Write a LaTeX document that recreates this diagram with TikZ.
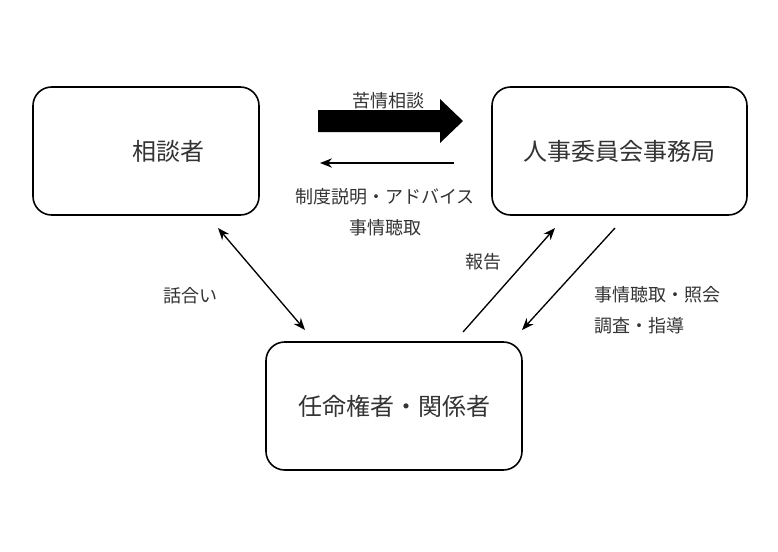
\documentclass[tikz,border=0pt]{standalone}
\usepackage{fontspec}
\setmainfont{Noto Sans CJK JP}
\usetikzlibrary{arrows.meta}

\begin{document}
\begin{tikzpicture}[x=0.75pt,y=0.75pt,yscale=-1,xscale=1,
  panel/.style={draw, line width=1.2pt, rounded corners=14pt, minimum height=96pt, inner sep=0pt, text=black!80, font=\fontsize{18}{22}\selectfont},
  lbl/.style={inner sep=0.75pt, text=black!80, font=\fontsize{13.5}{16}\selectfont},
  link/.style={line width=1pt, -{Stealth[length=9pt,width=7pt]}}
]
\path (0,0) rectangle (778,551); %set diagram size

%Boxes
\node [panel, minimum width=169.5pt] (sodansha) at (146,151) {\hspace*{33pt}相談者};
\node [panel, minimum width=191.25pt] (jimukyoku) at (619.5,151) {人事委員会事務局};
\node [panel, minimum width=192pt] (ninmei) at (394,406) {任命権者・関係者};

%Connector ends
\coordinate (req) at (454,163);
\coordinate (ans) at (320,163);
\coordinate (talkA) at (218,228);
\coordinate (talkB) at (305,330);
\coordinate (repA) at (463,332);
\coordinate (repB) at (555,228);
\coordinate (invA) at (615,228);
\coordinate (invB) at (522,330);

%Big arrow
\fill [black] (318,110) -- (440,110) -- (440,99) -- (463,121) -- (440,143) -- (440,132) -- (318,132) -- cycle;
%Straight Lines
\draw [link] (req) -- (ans);
\draw [link, {Stealth[length=9pt,width=7pt]}-{Stealth[length=9pt,width=7pt]}] (talkA) -- (talkB);
\draw [link] (repA) -- (repB);
\draw [link] (invA) -- (invB);

% Text Node
\node [lbl] (kujo) at (388,101) {苦情相談};
\node [lbl] (setsumei) at (385,197) {制度説明・アドバイス};
\node [lbl] (chosho) at (385,228) {事情聴取};
\node [lbl] (hanashi) at (190,296) {話合い};
\node [lbl] (hokoku) at (483,262) {報告};
\node [lbl, anchor=west] (shokai) at (593,295) {事情聴取・照会};
\node [lbl, anchor=west] (shido) at (593,326) {調査・指導};

\end{tikzpicture}
\end{document}
